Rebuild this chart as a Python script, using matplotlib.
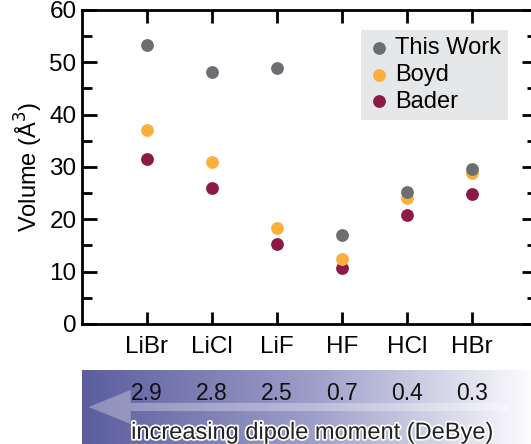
import numpy as np
import matplotlib.pyplot as plt
import matplotlib.patheffects as pe
from matplotlib.colors import LinearSegmentedColormap
from matplotlib.patches import FancyArrow

plt.rcParams['font.family'] = ['Liberation Sans', 'DejaVu Sans']

molecules = ["LiBr", "LiCl", "LiF", "HF", "HCl", "HBr"]
dipole = ["2.9", "2.8", "2.5", "0.7", "0.4", "0.3"]
this_work = [53.3, 48.2, 49.0, 17.0, 25.3, 29.7]
boyd = [37.1, 30.9, 18.4, 12.4, 24.1, 28.9]
bader = [31.5, 25.9, 15.2, 10.7, 20.8, 24.8]

x = np.arange(1, len(molecules) + 1)

fig = plt.figure(figsize=(5.31, 4.44), dpi=100)
ax = fig.add_axes([0.1544, 0.2703, 0.857, 0.7072])

ax.scatter(x, bader, s=85, color="#8c1a47", label="Bader", zorder=3, linewidths=0)
ax.scatter(x, boyd, s=85, color="#fbb03b", label="Boyd", zorder=4, linewidths=0)
ax.scatter(x, this_work, s=85, color="#6d6e71", label="This Work", zorder=5, linewidths=0)

ax.set_xlim(0, 7)
ax.set_ylim(0, 60)
ax.set_xticks(x)
ax.set_xticklabels(molecules)
ax.set_yticks(np.arange(0, 61, 10))
ax.set_yticks(np.arange(5, 60, 10), minor=True)
for s in ax.spines.values():
    s.set_linewidth(2)
ax.tick_params(axis="x", which="major", direction="in", length=9, width=2,
               top=True, labelsize=17.5, pad=9)
ax.tick_params(axis="y", which="major", direction="in", length=11, width=2,
               right=True, labelsize=17.5, pad=4)
ax.tick_params(axis="y", which="minor", direction="in", length=7, width=2, right=True)
ax.set_ylabel("Volume (Å$^3$)", fontsize=17, labelpad=3)

handles, labels = ax.get_legend_handles_labels()
leg = ax.legend(handles[::-1], labels[::-1], loc="upper right",
                bbox_to_anchor=(0.936, 0.936), borderaxespad=0, fontsize=17,
                frameon=True, fancybox=False, handletextpad=0.15, borderpad=0.3,
                labelspacing=0.2, handlelength=1.0)
leg.get_frame().set_facecolor("#e6e7e8")
leg.get_frame().set_edgecolor("none")
leg.get_frame().set_alpha(1)

# dipole moment banner under the axis
bx = fig.add_axes([0.1544, 0.0, 0.857, 0.1667])
cmap = LinearSegmentedColormap.from_list("band", ["#5b5e9e", "#9c9dc8", "#ffffff"])
grad = np.linspace(0, 1, 256).reshape(1, -1)
bx.imshow(grad, cmap=cmap, aspect="auto", extent=[0, 7, 0, 1])
bx.set_xlim(0, 7)
bx.set_ylim(0, 1)
bx.axis("off")

bx.add_patch(FancyArrow(6.55, 0.5, -6.45, 0, width=0.11, head_width=0.46,
                        head_length=0.65, length_includes_head=True,
                        color="white", alpha=0.3, linewidth=0))
for xi, d in zip(x, dipole):
    bx.text(xi, 0.68, d, ha="center", va="center", fontsize=16.5, color="#111111")
bx.text(3.55, 0.15, "increasing dipole moment (DeBye)", ha="center", va="center",
        fontsize=17, color="#222222",
        path_effects=[pe.withStroke(linewidth=2.5, foreground="white")])

fig.savefig("out.png", dpi=100)
